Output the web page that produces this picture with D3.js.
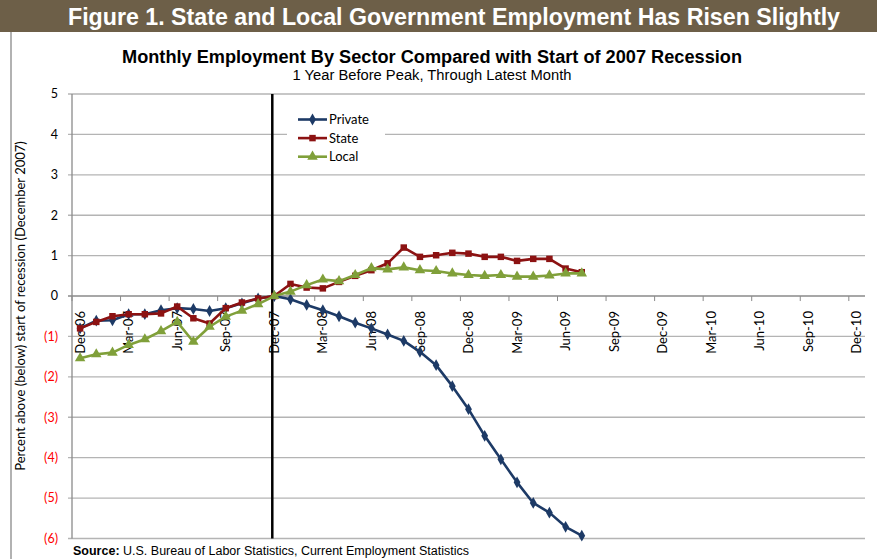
<!DOCTYPE html>
<html lang="en">
<head>
  <meta charset="UTF-8">
  <title>State and Local Government Employment</title>
  <style>
    body { margin: 0; background: #fff; }
    svg text { font-family: Lato, 'Open Sans', sans-serif; }
  </style>
</head>
<body>
  <div class="canvas"></div>
  <script src="https://cdnjs.cloudflare.com/ajax/libs/d3/7.8.5/d3.min.js"></script>
  <script>
// months on the category axis, Dec-06 through Dec-10
const months = [
  'Dec-06','Jan-07','Feb-07','Mar-07','Apr-07','May-07','Jun-07','Jul-07','Aug-07','Sep-07','Oct-07','Nov-07',
  'Dec-07','Jan-08','Feb-08','Mar-08','Apr-08','May-08','Jun-08','Jul-08','Aug-08','Sep-08','Oct-08','Nov-08',
  'Dec-08','Jan-09','Feb-09','Mar-09','Apr-09','May-09','Jun-09','Jul-09','Aug-09','Sep-09','Oct-09','Nov-09',
  'Dec-09','Jan-10','Feb-10','Mar-10','Apr-10','May-10','Jun-10','Jul-10','Aug-10','Sep-10','Oct-10','Nov-10',
  'Dec-10'
];
// only every third month gets a label
const monthLabels = ['Dec-06','Mar-07','Jun-07','Sep-07','Dec-07','Mar-08','Jun-08','Sep-08','Dec-08',
  'Mar-09','Jun-09','Sep-09','Dec-09','Mar-10','Jun-10','Sep-10','Dec-10'];

// percent above (below) Dec 2007, Dec-06 .. Jul-09
const privateVals = [-0.80,-0.61,-0.60,-0.45,-0.45,-0.35,-0.30,-0.32,-0.37,-0.30,-0.18,-0.06,
  0,-0.08,-0.22,-0.35,-0.50,-0.66,-0.80,-0.95,-1.11,-1.38,-1.71,-2.23,
  -2.80,-3.46,-4.04,-4.61,-5.12,-5.36,-5.71,-5.93];
const stateVals = [-0.80,-0.64,-0.50,-0.45,-0.45,-0.43,-0.26,-0.55,-0.68,-0.30,-0.16,-0.06,
  0,0.30,0.21,0.19,0.35,0.50,0.64,0.81,1.20,0.97,1.01,1.07,
  1.05,0.97,0.97,0.87,0.92,0.92,0.68,0.59];
const localVals = [-1.54,-1.44,-1.40,-1.21,-1.07,-0.87,-0.64,-1.13,-0.76,-0.51,-0.36,-0.20,
  0,0.11,0.27,0.41,0.37,0.52,0.69,0.66,0.71,0.64,0.62,0.56,
  0.52,0.50,0.52,0.48,0.48,0.51,0.56,0.56];

const yTicks = [5, 4, 3, 2, 1, 0, -1, -2, -3, -4, -5, -6];
const recessionStart = 'Dec-07';

const series = [
  { name: 'Private', values: privateVals, color: '#1d3a66', marker: d3.symbolDiamond, size: 40 },
  { name: 'State',   values: stateVals,   color: '#8c1212', marker: d3.symbolSquare,  size: 42 },
  { name: 'Local',   values: localVals,   color: '#80a03a', marker: d3.symbolTriangle, size: 48 }
];

const W = 877, H = 559;
const plot = { left: 72, right: 865, top: 94, bottom: 538.5 };

const svg = d3.select('.canvas').append('svg')
  .attr('width', W)
  .attr('height', H);

// title bar
svg.append('rect')
  .attr('x', 0).attr('y', 0)
  .attr('width', W).attr('height', 32)
  .attr('fill', '#6d5f48');
svg.append('text')
  .attr('x', 454).attr('y', 25)
  .attr('text-anchor', 'middle')
  .attr('fill', '#fff')
  .style('font-family', "'Liberation Sans', Arial, sans-serif")
  .style('font-weight', 'bold')
  .style('font-size', '23.5px')
  .attr('textLength', 772)
  .attr('lengthAdjust', 'spacingAndGlyphs')
  .text('Figure 1. State and Local Government Employment Has Risen Slightly');

// left frame line
svg.append('line')
  .attr('x1', 11).attr('x2', 11)
  .attr('y1', 32).attr('y2', H)
  .attr('stroke', '#999').attr('stroke-width', 1.5);

// chart titles
svg.append('text')
  .attr('x', 432).attr('y', 63)
  .attr('text-anchor', 'middle')
  .style('font-family', "'Liberation Sans', Arial, sans-serif")
  .style('font-weight', 'bold')
  .style('font-size', '17.5px')
  .attr('textLength', 620)
  .attr('lengthAdjust', 'spacingAndGlyphs')
  .text('Monthly Employment By Sector Compared with Start of 2007 Recession');
svg.append('text')
  .attr('x', 432).attr('y', 80)
  .attr('text-anchor', 'middle')
  .style('font-family', "'Liberation Sans', Arial, sans-serif")
  .style('font-size', '14px')
  .attr('textLength', 279)
  .attr('lengthAdjust', 'spacingAndGlyphs')
  .text('1 Year Before Peak, Through Latest Month');

// scales
const x = d3.scaleBand()
  .domain(months)
  .range([plot.left, plot.right]);
const cx = m => x(m) + x.bandwidth() / 2;

const y = d3.scaleLinear()
  .domain([-6, 5])
  .range([plot.bottom, plot.top]);

// gridlines
svg.append('g')
  .selectAll('line')
  .data(yTicks.filter(t => t !== 0))
  .join('line')
  .attr('x1', plot.left - 4).attr('x2', plot.right)
  .attr('y1', d => y(d)).attr('y2', d => y(d))
  .attr('stroke', '#b4b4b4').attr('stroke-width', 1.3);

// y axis line
svg.append('line')
  .attr('x1', plot.left).attr('x2', plot.left)
  .attr('y1', plot.top).attr('y2', plot.bottom)
  .attr('stroke', '#8a8a8a').attr('stroke-width', 1.3);

// y tick labels, negatives in red parentheses
svg.append('g')
  .selectAll('text')
  .data(yTicks)
  .join('text')
  .attr('x', 58)
  .attr('y', d => y(d))
  .attr('dy', '0.35em')
  .attr('text-anchor', 'end')
  .attr('fill', d => d < 0 ? '#ff0000' : '#000')
  .style('font-size', '12.5px')
  .text(d => d < 0 ? '(' + Math.abs(d) + ')' : d);

// y axis title
svg.append('text')
  .attr('transform', 'translate(25, 306) rotate(-90)')
  .attr('text-anchor', 'middle')
  .style('font-size', '13px')
  .text('Percent above (below) start of recession (December 2007)');

// zero axis line with tick marks between categories
svg.append('line')
  .attr('x1', plot.left - 4).attr('x2', plot.right)
  .attr('y1', y(0)).attr('y2', y(0))
  .attr('stroke', '#8a8a8a').attr('stroke-width', 1.6);

svg.append('g')
  .selectAll('line')
  .data(monthLabels)
  .join('line')
  .attr('x1', d => x(d)).attr('x2', d => x(d))
  .attr('y1', y(0)).attr('y2', y(0) + 5)
  .attr('stroke', '#8a8a8a').attr('stroke-width', 1);

svg.append('g')
  .selectAll('text')
  .data(monthLabels)
  .join('text')
  .attr('transform', d => `translate(${cx(d)}, ${y(0) + 15}) rotate(-90)`)
  .attr('dy', '0.35em')
  .attr('text-anchor', 'end')
  .style('font-size', '13px')
  .text(d => d);

// recession start marker
svg.append('line')
  .attr('x1', cx(recessionStart) - 2).attr('x2', cx(recessionStart) - 2)
  .attr('y1', plot.top).attr('y2', plot.bottom)
  .attr('stroke', '#000').attr('stroke-width', 2.5);

// series lines and markers
const line = d3.line()
  .x((d, i) => cx(months[i]))
  .y(d => y(d));

series.forEach(s => {
  const g = svg.append('g');
  g.append('path')
    .attr('d', line(s.values))
    .attr('fill', 'none')
    .attr('stroke', s.color)
    .attr('stroke-width', 2.6)
    .attr('stroke-linejoin', 'round');
  g.selectAll('path.pt')
    .data(s.values)
    .join('path')
    .attr('class', 'pt')
    .attr('transform', (d, i) => `translate(${cx(months[i])}, ${y(d)})`)
    .attr('d', d3.symbol(s.marker, s.size))
    .attr('fill', s.color);
});

// legend
const legend = svg.append('g');
legend.append('rect')
  .attr('x', 287).attr('y', 108)
  .attr('width', 98).attr('height', 58)
  .attr('fill', '#fff');
series.forEach((s, i) => {
  const ly = 119.5 + i * 18.6;
  legend.append('line')
    .attr('x1', 298).attr('x2', 327)
    .attr('y1', ly).attr('y2', ly)
    .attr('stroke', s.color).attr('stroke-width', 2.6);
  legend.append('path')
    .attr('transform', `translate(312.5, ${ly})`)
    .attr('d', d3.symbol(s.marker, s.size))
    .attr('fill', s.color);
  legend.append('text')
    .attr('x', 329).attr('y', ly)
    .attr('dy', '0.35em')
    .style('font-size', '13px')
    .text(s.name);
});

// source note
const src = svg.append('text')
  .attr('x', 73).attr('y', 555)
  .style('font-family', "'Liberation Sans', Arial, sans-serif")
  .style('font-size', '12.5px');
src.append('tspan').style('font-weight', 'bold').text('Source:');
src.append('tspan').text(' U.S. Bureau of Labor Statistics, Current Employment Statistics');
  </script>
</body>
</html>
